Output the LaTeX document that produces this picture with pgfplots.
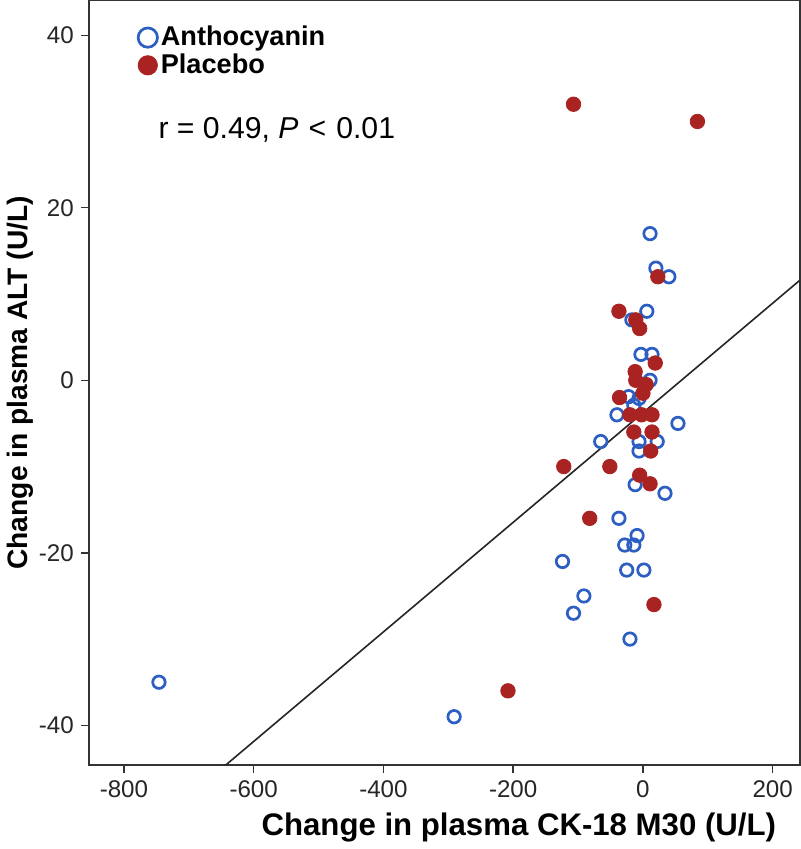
\documentclass[border=0pt]{standalone}
\usepackage{pgfplots}
\pgfplotsset{compat=1.18}
\usepackage{fontspec}
\setmainfont{Liberation Sans}
\definecolor{antho}{RGB}{45,95,195}
\definecolor{plac}{RGB}{170,35,35}
\begin{document}
\begin{tikzpicture}
\begin{axis}[
  scale only axis,
  width=353.5pt, height=380pt,
  xmin=-854, xmax=242, ymin=-44.6, ymax=44,
  xtick={-800,-600,-400,-200,0,200},
  ytick={-40,-20,0,20,40},
  tick align=outside, tick pos=lower,
  major tick length=4pt,
  axis line style={line width=0.7pt, black!80},
  every tick/.style={line width=0.7pt, black!80},
  /pgf/number format/assume math mode=true,
  ticklabel style={font=\fontsize{12}{14}\selectfont, text=black!85},
  xlabel={\textbf{Change in plasma CK-18 M30 (U/L)}},
  ylabel={\textbf{Change in plasma ALT (U/L)}},
  xlabel style={font=\fontsize{15.5}{17}\selectfont, xshift=37pt, yshift=-1pt},
  ylabel style={font=\fontsize{14}{16}\selectfont, yshift=-4pt},
  legend style={draw=none, fill=none, at={(rel axis cs:0.064,0.975)}, anchor=north west,
    font=\bfseries\fontsize{13.5}{14}\selectfont, row sep=-1.5pt, inner sep=1pt,
    legend cell align=left, nodes={inner xsep=1pt}},
  legend image code/.code={\draw[#1] (0pt,0pt) circle[radius=4.8pt];},
  clip=true,
]
\addplot[only marks, mark=o, mark size=3.1pt, draw=antho, line width=1.35pt] coordinates {
(-746,-35) (-291,-39) (11,17) (20,13) (40,12) (6,8) (-17,7) (-3,3) (14,3) (11,0)
(-40,-4) (-22,-1.9) (-6,-2.1) (-14,-2.9) (54,-5) (-65,-7.1) (-6,-7.1) (22,-7.1) (-6,-8.2)
(-12,-12.1) (34,-13.1) (-37,-16) (-9,-18) (-28,-19.1) (-14,-19.1) (-124,-21) (-25,-22)
(1.5,-22) (-91,-25) (-107,-27) (-20,-30)
};
\addlegendentry{Anthocyanin}
\addplot[only marks, mark=*, mark size=3.6pt, draw=plac, fill=plac] coordinates {
(-107,32) (84,30) (23,12) (-37,8) (-11,7) (-5,6) (19,2) (-12,1) (-11,0) (5,-0.5)
(0,-1.5) (-36,-2) (-20,-4) (-2,-4) (14,-4) (-14,-6) (14,-6) (12,-8.2) (-51,-10)
(-122,-10) (-5,-11) (11,-12) (-82,-16) (17,-26) (-208,-36)
};
\addlegendentry{Placebo}
\addplot[black!85, line width=0.8pt, forget plot] coordinates {(-860,-58.38) (250,12.11)};
\node[anchor=west, font=\fontsize{15}{17}\selectfont] at (rel axis cs:0.088,0.831) {r = 0.49, \textit{P}\,\,<\,\,0.01};
\end{axis}
\end{tikzpicture}
\end{document}
